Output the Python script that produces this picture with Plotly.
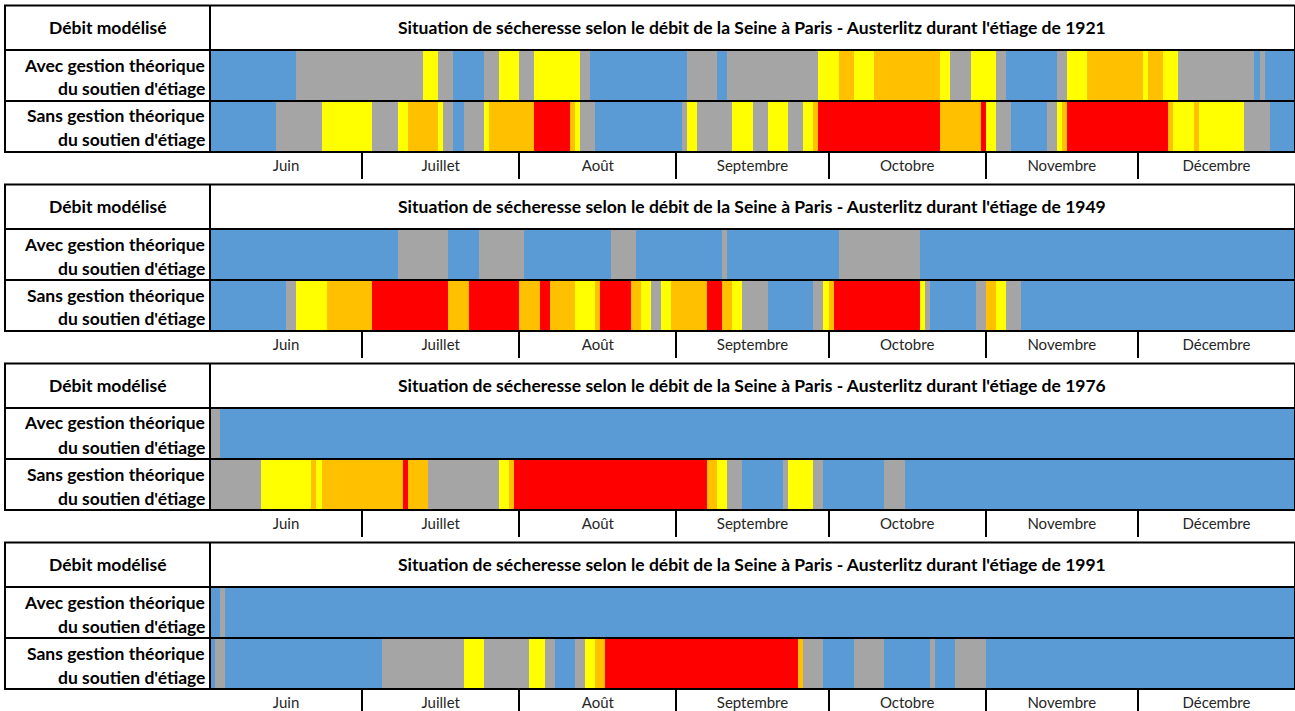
import plotly.graph_objects as go
import numpy as np

# niveaux: B normal, G vigilance, Y alerte, O alerte renforcée, R crise
years = ["1921", "1949", "1976", "1991"]
months = ["Juin", "Juillet", "Août", "Septembre", "Octobre", "Novembre", "Décembre"]
month_days = [30, 31, 31, 30, 31, 30, 31]

avec_1921 = [("B", 17), ("G", 25), ("Y", 3), ("G", 3), ("B", 6), ("G", 3), ("Y", 4), ("G", 3),
             ("Y", 9), ("G", 2), ("B", 19), ("G", 6), ("B", 2), ("G", 18), ("Y", 4), ("O", 3),
             ("Y", 4), ("O", 13), ("Y", 2), ("G", 4), ("Y", 5), ("G", 2), ("B", 10), ("G", 2),
             ("Y", 4), ("O", 11), ("Y", 1), ("O", 3), ("Y", 3), ("G", 15), ("B", 1), ("G", 1), ("B", 6)]
sans_1921 = [("B", 13), ("G", 9), ("Y", 10), ("G", 5), ("Y", 2), ("O", 6), ("Y", 1), ("G", 2),
             ("B", 2), ("G", 4), ("Y", 1), ("O", 9), ("R", 7), ("O", 1), ("Y", 1), ("G", 3),
             ("B", 17), ("G", 1), ("Y", 2), ("G", 7), ("Y", 4), ("G", 3), ("Y", 4), ("G", 3),
             ("Y", 2), ("O", 1), ("R", 24), ("O", 8), ("R", 1), ("Y", 2), ("G", 3), ("B", 7),
             ("G", 2), ("Y", 1), ("O", 1), ("R", 20), ("O", 1), ("Y", 4), ("O", 1), ("Y", 9),
             ("G", 5), ("B", 5)]
avec_1949 = [("B", 37), ("G", 10), ("B", 6), ("G", 9), ("B", 17), ("G", 5), ("B", 17), ("G", 1),
             ("B", 22), ("G", 16), ("B", 74)]
sans_1949 = [("B", 15), ("G", 2), ("Y", 6), ("O", 9), ("R", 15), ("O", 4), ("R", 10), ("O", 4),
             ("R", 2), ("O", 5), ("Y", 4), ("O", 1), ("R", 6), ("O", 2), ("Y", 2), ("G", 2),
             ("Y", 2), ("O", 7), ("R", 3), ("O", 2), ("Y", 2), ("G", 5), ("B", 9), ("G", 2),
             ("Y", 1), ("O", 1), ("R", 17), ("Y", 1), ("G", 1), ("B", 9), ("G", 2), ("O", 2),
             ("Y", 2), ("G", 3), ("B", 54)]
avec_1976 = [("G", 2), ("B", 212)]
sans_1976 = [("G", 10), ("Y", 10), ("O", 1), ("Y", 1), ("O", 16), ("R", 1), ("O", 4), ("G", 14),
             ("Y", 2), ("O", 1), ("R", 38), ("O", 2), ("Y", 2), ("G", 3), ("B", 8), ("G", 1),
             ("Y", 5), ("G", 2), ("B", 12), ("G", 4), ("B", 77)]
avec_1991 = [("B", 2), ("G", 1), ("B", 211)]
sans_1991 = [("B", 1), ("G", 2), ("B", 31), ("G", 16), ("Y", 4), ("G", 9), ("Y", 3), ("G", 2),
             ("B", 4), ("G", 2), ("Y", 2), ("O", 2), ("R", 38), ("O", 1), ("G", 4), ("B", 6),
             ("G", 6), ("B", 9), ("G", 1), ("B", 4), ("G", 6), ("B", 61)]

avec = [avec_1921, avec_1949, avec_1976, avec_1991]
sans = [sans_1921, sans_1949, sans_1976, sans_1991]

level = {"B": 0, "G": 1, "Y": 2, "O": 3, "R": 4}
colors = ["#5B9BD5", "#A5A5A5", "#FFFF00", "#FFC000", "#FF0000"]
colorscale = []
for i, c in enumerate(colors):
    colorscale += [[i / 5, c], [(i + 1) / 5, c]]


def expand(runs):
    out = []
    for c, n in runs:
        out += [level[c]] * n
    return out


W, H = 1295, 711
STEP = 179
LEFT, SPLIT, RIGHT = 5, 210, 1295
TOP, HEAD, MID, BOT = 5.5, 50, 101, 152
FONT = "Lato"


def px(x):
    return x / W


def py(y):
    return 1 - y / H


ndays = sum(month_days)
days = np.arange(ndays)
edges = np.cumsum(month_days)
bounds = [e - 0.5 for e in edges[:-1]]
mids = [e - m / 2 - 0.5 for e, m in zip(edges, month_days)]

fig = go.Figure()
shapes = []
annotations = []
line = dict(color="black", width=2)

for k, year in enumerate(years):
    off = k * STEP
    n = "" if k == 0 else str(k + 1)
    z = [expand(sans[k]), expand(avec[k])]
    fig.add_trace(go.Heatmap(
        z=z, x=days, y=[0, 1], xaxis="x" + n, yaxis="y" + n,
        colorscale=colorscale, zmin=-0.5, zmax=4.5, showscale=False, hoverinfo="skip",
    ))
    fig.layout["xaxis" + n] = dict(
        domain=[px(SPLIT), px(RIGHT)], anchor="y" + n, range=[-0.5, ndays - 0.5],
        showgrid=False, zeroline=False, fixedrange=True,
        tickmode="array", tickvals=mids, ticktext=months, ticks="", ticklabelstandoff=3,
        tickfont=dict(family=FONT, size=15, color="#262626"),
        minor=dict(tickmode="array", tickvals=bounds, ticks="outside", ticklen=26,
                   tickwidth=2, tickcolor="black", showgrid=False),
    )
    fig.layout["yaxis" + n] = dict(
        domain=[py(BOT + off), py(HEAD + off)], anchor="x" + n, range=[-0.5, 1.5],
        showgrid=False, zeroline=False, showticklabels=False, fixedrange=True,
    )

    # table borders
    shapes.append(dict(type="rect", xref="paper", yref="paper", x0=px(LEFT), x1=px(RIGHT),
                       y0=py(BOT + off), y1=py(TOP + off), line=line, layer="above"))
    for yy in (HEAD, MID):
        shapes.append(dict(type="line", xref="paper", yref="paper", x0=px(LEFT), x1=px(RIGHT),
                           y0=py(yy + off), y1=py(yy + off), line=line, layer="above"))
    shapes.append(dict(type="line", xref="paper", yref="paper", x0=px(SPLIT), x1=px(SPLIT),
                       y0=py(BOT + off), y1=py(TOP + off), line=line, layer="above"))

    bold = dict(family=FONT, size=17.5, color="black")
    annotations.append(dict(text="<b>Débit modélisé</b>", x=px((LEFT + SPLIT) / 2),
                            y=py((TOP + HEAD) / 2 + off), xref="paper", yref="paper",
                            showarrow=False, font=bold, xanchor="center", yanchor="middle"))
    annotations.append(dict(
        text="<b>Situation de sécheresse selon le débit de la Seine à Paris - Austerlitz "
             "durant l'étiage de " + year + "</b>",
        x=px((SPLIT + RIGHT) / 2), y=py((TOP + HEAD) / 2 + off), xref="paper", yref="paper",
        showarrow=False, font=bold, xanchor="center", yanchor="middle"))
    for txt, yy in [("Avec gestion théorique", 65), ("du soutien d'étiage", 89),
                    ("Sans gestion théorique", 116), ("du soutien d'étiage", 140)]:
        annotations.append(dict(text="<b>" + txt + "</b>", x=px(SPLIT - 3), y=py(yy + off),
                                xref="paper", yref="paper", showarrow=False, font=bold,
                                xanchor="right", yanchor="middle"))

fig.update_layout(
    width=W, height=H, margin=dict(l=0, r=0, t=0, b=0),
    paper_bgcolor="white", plot_bgcolor="white",
    shapes=shapes, annotations=annotations, showlegend=False,
)

fig.write_html("out.html", config={"displayModeBar": False},
               post_script="document.body.style.margin = '0';")
